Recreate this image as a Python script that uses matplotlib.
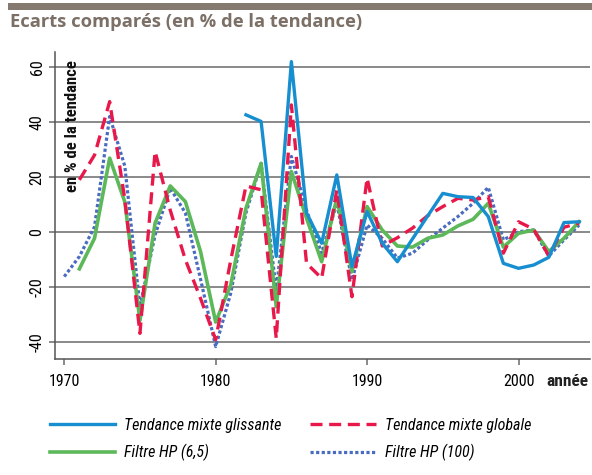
# Ecarts comparés (en % de la tendance) - recreation
import numpy as np
import matplotlib
matplotlib.use("Agg")
import matplotlib.pyplot as plt
from matplotlib.patches import Rectangle

COND = ["Roboto Condensed", "Lato", "DejaVu Sans"]
plt.rcParams["font.family"] = COND

# ── Data ─────────────────────────────────────────────────────────
years = np.arange(1970, 2005)
nan = np.nan

mixte_glissante = [nan] * 12 + [
    42.6, 40.2, -8.8, 61.9, 7.0, -4.0, 20.8, -12.5, 7.5, -4.0,
    -10.7, -2.4, 5.9, 14.1, 12.9, 12.6, 5.7, -11.3, -13.1, -11.9,
    -9.1, 3.5, 3.8]

mixte_globale = [nan] + [
    19.0, 28.0, 47.4, 12.0, -36.7, 29.3, 8.0, -10.0, -24.0, -39.0,
    -10.0, 16.8, 15.4, -38.5, 46.2, -11.3, -16.7, 15.4, -23.4, 19.6,
    -5.0, -2.0, 1.5, 6.0, 9.3, 12.3, 11.7, 12.9, -7.6, 3.8,
    1.1, -8.6, 1.8, 3.3]

hp_6_5 = [nan] + [
    -13.3, -2.2, 26.9, 11.0, -32.0, 3.3, 16.8, 11.1, -7.0, -32.6,
    -19.0, 8.7, 25.0, -27.0, 22.0, 5.1, -10.7, 12.3, -14.3, 9.3,
    0.8, -5.0, -5.4, -2.2, -1.0, 2.3, 4.7, 10.5, -5.4, -0.4,
    0.8, -7.0, -2.2, 3.8]

hp_100 = [
    -16.1, -8.8, 2.0, 42.0, 24.0, -27.0, -1.0, 16.0, 7.0, -17.0,
    -41.5, -22.0, 7.0, 25.0, -21.0, 27.5, 8.0, -7.6, 10.5, -17.3,
    2.6, -2.2, -9.4, -7.6, -2.8, 1.5, 5.7, 10.5, 16.3, -2.8,
    0.2, 0.8, -8.6, -2.8, 2.6]

y_ticks = [-40, -20, 0, 20, 40, 60]
x_ticks = [1970, 1980, 1990, 2000]

# ── Figure ───────────────────────────────────────────────────────
fig = plt.figure(figsize=(5.92, 4.75), dpi=100)
ax = fig.add_axes([55 / 592, 1 - 359 / 475, 535 / 592, 307 / 475])

# header bar + title
fig.add_artist(Rectangle((8 / 592, 1 - 10 / 475), 584 / 592, 7 / 475,
                         transform=fig.transFigure, color="#857a70", lw=0))
fig.text(10 / 592, 1 - 22 / 475, "Ecarts comparés (en % de la tendance)",
         family=["Open Sans", "DejaVu Sans"], fontweight="bold",
         fontsize=13.2, color="#7b6f66", va="center", ha="left")

grid_col = "#6a6a6a"
for yv in y_ticks:
    ax.axhline(yv, color=grid_col, lw=1.1, zorder=1)

ax.plot(years, hp_100, color="#4a6cc0", lw=2.3, linestyle=(0, (1.0, 0.75)),
        dash_capstyle="butt", label="Filtre HP (100)", zorder=3)
ax.plot(years, hp_6_5, color="#5db85a", lw=2.6,
        label="Filtre HP (6,5)", zorder=3)
ax.plot(years, mixte_globale, color="#e8194a", lw=2.4,
        linestyle=(0, (3.6, 2.0)), label="Tendance mixte globale", zorder=4)
ax.plot(years, mixte_glissante, color="#168ed0", lw=2.4,
        label="Tendance mixte glissante", zorder=5)

ax.set_xlim(1969.39, 2004.72)
ax.set_ylim(-46, 65.4)

ax.set_yticks(y_ticks)
ax.set_yticklabels([str(v) for v in y_ticks], rotation=90, va="center")
ax.set_xticks(x_ticks)
ax.tick_params(axis="y", length=4.5, color=grid_col, width=1.1,
               pad=3, labelsize=11.5)
ax.tick_params(axis="x", length=4, color=grid_col, width=1.1,
               pad=7, labelsize=11.5)

for side in ["top", "right"]:
    ax.spines[side].set_visible(False)
for side in ["left", "bottom"]:
    ax.spines[side].set_color("#555555")
    ax.spines[side].set_linewidth(1.1)

ax.text(0.032, 0.975, "en % de la tendance", transform=ax.transAxes,
        rotation=90, ha="center", va="top", fontsize=12,
        fontweight="semibold", color="#111111")
fig.text(546 / 592, 1 - 381 / 475, "année", fontsize=12.5,
         fontweight="bold", ha="left", va="center", color="#222222")

# legend: column 1 blue/green, column 2 red/dotted
h, l = ax.get_legend_handles_labels()
order = [3, 1, 2, 0]
fig.legend([h[i] for i in order], [l[i] for i in order],
           loc="upper left", bbox_to_anchor=(50 / 592, 1 - 418 / 475),
           ncol=2, frameon=False, prop={"style": "italic", "size": 11.5},
           borderpad=0, borderaxespad=0,
           handlelength=4.1, handletextpad=0.55, columnspacing=1.8,
           labelspacing=0.7)

plt.savefig("out.png", dpi=100)
